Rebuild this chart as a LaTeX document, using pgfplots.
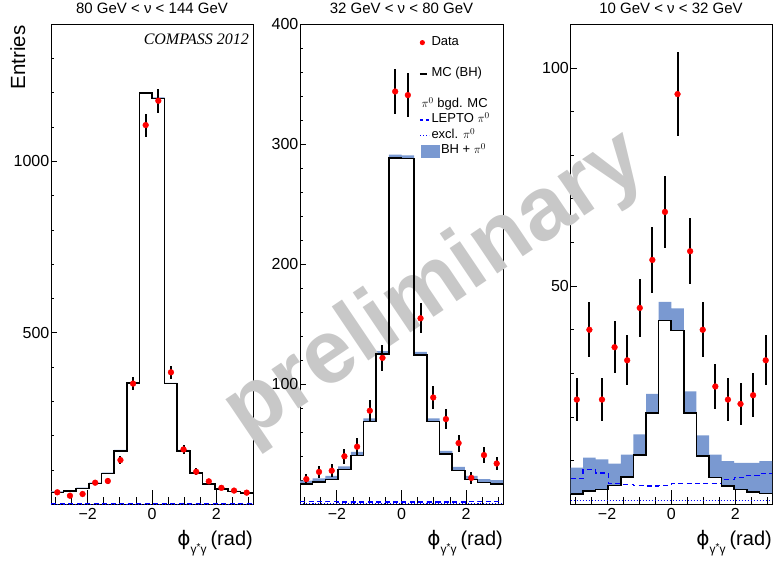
\documentclass[border=0pt]{standalone}
\usepackage{fontspec}
\setmainfont{Liberation Sans}
\newfontfamily\timesfont{Liberation Serif}
\newfontfamily\dejavu{DejaVu Sans}
\usepackage{pgfplots}
\usepackage{pgfplotstable}
\pgfplotsset{compat=1.18}
\usepgfplotslibrary{fillbetween}

\definecolor{bandblue}{RGB}{122,153,209}
\definecolor{wmark}{RGB}{200,200,200}

% MC histograms, 16 bins in phi: e = left bin edge, last row closes the last bin
\pgfplotstableread{
e        bh      tot     lep   exc
-3.1416  35      37.5    2.0   0.5
-2.7489  39      41.5    2.0   0.5
-2.3562  46      48.5    2.0   0.5
-1.9635  61      63.5    2.0   0.5
-1.5708  90      92.5    2.0   0.5
-1.1781  156     158.5   2.0   0.5
-0.7854  354     356.5   2.0   0.5
-0.3927  1199    1201.5  2.0   0.5
 0.0     1184    1186.5  2.0   0.5
 0.3927  352     354.5   2.0   0.5
 0.7854  156     158.5   2.0   0.5
 1.1781  91      93.5    2.0   0.5
 1.5708  59      61.5    2.0   0.5
 1.9635  44      46.5    2.0   0.5
 2.3562  37      39.5    2.0   0.5
 2.7489  33      35.5    2.0   0.5
 3.1416  33      35.5    2.0   0.5
}\mcA
\pgfplotstableread{
x        y      err
-2.9452  35     5.9
-2.5525  25     5.0
-2.1598  30     5.5
-1.7671  63     7.9
-1.3744  68     8.2
-0.9817  129    11.4
-0.5890  352    18.8
-0.1963  1106   33.3
 0.1963  1177   34.3
 0.5890  385    19.6
 0.9817  160    12.6
 1.3744  95     9.7
 1.7671  67     8.2
 2.1598  48     6.9
 2.5525  40     6.3
 2.9452  34     5.8
}\datA

\pgfplotstableread{
e        bh      tot     lep   exc
-3.1416  16.7    19.8    2.3   0.8
-2.7489  18.6    21.6    2.2   0.8
-2.3562  20.8    23.7    2.1   0.8
-1.9635  28.9    31.7    2.0   0.8
-1.5708  40.8    43.6    2.0   0.8
-1.1781  69.0    71.7    1.9   0.8
-0.7854  125.0   127.7   1.9   0.8
-0.3927  288.6   291.4   2.0   0.8
 0.0     288.0   290.8   2.0   0.8
 0.3927  124.4   127.1   1.9   0.8
 0.7854  69.0    71.7    1.9   0.8
 1.1781  41.7    44.5    2.0   0.8
 1.5708  28.3    31.1    2.0   0.8
 1.9635  20.8    23.7    2.1   0.8
 2.3562  18.0    21.0    2.2   0.8
 2.7489  17.0    20.1    2.3   0.8
 3.1416  17.0    20.1    2.3   0.8
}\mcB
\pgfplotstableread{
x        y      err
-2.9452  21     4.6
-2.5525  27     5.2
-2.1598  28     5.3
-1.7671  40     6.3
-1.3744  48     6.9
-0.9817  78     8.8
-0.5890  122    11.0
-0.1963  344    18.5
 0.1963  341    18.5
 0.5890  155    12.4
 0.9817  89     9.4
 1.3744  71     8.4
 1.7671  51     7.1
 2.1598  22     4.7
 2.5525  41     6.4
 2.9452  34     5.8
}\datB

\pgfplotstableread{
e        bh      tot     lep   exc
-3.1416  2.4     8.4     5.9   0.8
-2.7489  3.0     10.7    8.0   0.8
-2.3562  3.4     10.3    7.2   0.8
-1.9635  4.3     9.3     4.8   0.8
-1.5708  6.3     11.4    4.6   0.8
-1.1781  11.3    16.0    4.3   0.8
-0.7854  20.9    25.3    4.2   0.8
-0.3927  42.1    46.4    4.3   0.8
 0.0     39.8    44.9    4.8   0.8
 0.3927  20.9    25.9    4.8   0.8
 0.7854  11.0    15.8    4.7   0.8
 1.1781  6.1     11.4    4.7   0.8
 1.5708  4.2     9.9     5.7   0.8
 1.9635  3.4     9.5     6.2   0.8
 2.3562  2.8     9.5     6.6   0.8
 2.7489  2.5     9.9     7.1   0.8
 3.1416  2.5     9.9     7.1   0.8
}\mcC
\pgfplotstableread{
x        y      err
-2.9452  24     4.9
-2.5525  40     6.3
-2.1598  24     4.9
-1.7671  36     6.0
-1.3744  33     5.7
-0.9817  45     6.7
-0.5890  56     7.5
-0.1963  67     8.2
 0.1963  94     9.7
 0.5890  58     7.6
 0.9817  40     6.3
 1.3744  27     5.2
 1.7671  24     4.9
 2.1598  23     4.8
 2.5525  25     5.0
 2.9452  33     5.7
}\datC

\pgfplotsset{
  panel/.style={
    scale only axis, height=480pt,
    xmin=-3.1416, xmax=3.1416, ymin=0,
    axis line style={black, line width=0.9pt},
    tick align=inside, tick pos=left,
    xtick={-2,0,2}, xticklabels={−2,0,2},
    minor xtick={-3,-2.5,...,3},
    major tick length=6pt, minor tick length=3pt,
    xtick style={/pgfplots/major tick length=14pt, /pgfplots/minor tick length=7pt},
    tick style={black, line width=0.8pt},
    tick label style={font=\fontsize{16}{18}\selectfont},
    yticklabel style={inner xsep=1.5pt},
    /pgf/number format/assume math mode=true,
    xlabel={{\dejavu ϕ}\raisebox{-8pt}{\fontsize{12}{12}\selectfont γ\raisebox{3pt}{\fontsize{10}{10}\selectfont *}γ}\hspace{4pt}(rad)},
    xlabel style={at={(axis description cs:1,0)}, anchor=base east, yshift=-41pt,
      inner sep=0pt, font=\fontsize{20}{22}\selectfont},
  },
  mchist/.style={const plot mark left, no marks, black, line width=1.6pt},
  lepto/.style={const plot mark left, no marks, blue, line width=1.4pt, dash pattern=on 5pt off 3.5pt},
  excl/.style={const plot mark left, no marks, blue, line width=1.2pt, dash pattern=on 1pt off 2pt},
  errbars/.style={only marks, mark=none, black,
    error bars/.cd, y dir=both, y explicit, error mark=none,
    error bar style={black, line width=2pt}, /pgfplots/.cd},
  datapts/.style={only marks, mark=*, mark size=2.9pt, red, mark options={fill=red, draw=red}},
  lgimg/.style={draw=none, fill=none},
}

\begin{document}
\begin{tikzpicture}
\path (0pt,0pt) rectangle (774pt,565pt);

\node[rotate=34, anchor=base, text=wmark, font=\bfseries\fontsize{90}{90}\selectfont] at (449pt,258pt) {preliminary};

% 80 < nu < 144
\begin{axis}[panel, at={(51pt,61pt)}, anchor=south west, width=202pt, ymax=1400,
  ytick={500,1000}, yticklabels={500,1000}, minor ytick={100,200,...,1400}]
\addplot[draw=none, forget plot, const plot mark left, name path=aT] table[x=e,y=tot]{\mcA};
\addplot[draw=none, forget plot, const plot mark left, name path=aB] table[x=e,y=bh]{\mcA};
\addplot[fill=bandblue, draw=none, forget plot] fill between[of=aT and aB];
\addplot[lepto, forget plot] table[x=e,y=lep]{\mcA};
\addplot[excl, forget plot] table[x=e,y=exc]{\mcA};
\addplot[mchist, forget plot] table[x=e,y=bh]{\mcA};
\addplot[forget plot, errbars] table[x=x,y=y,y error=err]{\datA};
\addplot[forget plot, datapts] table[x=x,y=y]{\datA};
\end{axis}

% 32 < nu < 80
\begin{axis}[panel, at={(300pt,61pt)}, anchor=south west, width=203pt, ymax=400,
  ytick={100,200,300,400}, yticklabels={100,200,300,400}, minor ytick={20,40,...,380},
  legend style={at={(rel axis cs:0.585,0.978)}, anchor=north west, draw=none, fill=none,
    inner sep=0pt, outer sep=0pt, row sep=0pt, column sep=1.5pt,
    font=\fontsize{13}{15}\selectfont,
    nodes={inner sep=0pt, text height=10.5pt, text depth=5pt}},
  legend cell align=left]
\addplot[draw=none, forget plot, const plot mark left, name path=bT] table[x=e,y=tot]{\mcB};
\addplot[draw=none, forget plot, const plot mark left, name path=bB] table[x=e,y=bh]{\mcB};
\addplot[fill=bandblue, draw=none, forget plot] fill between[of=bT and bB];
\addplot[lepto, forget plot] table[x=e,y=lep]{\mcB};
\addplot[excl, forget plot] table[x=e,y=exc]{\mcB};
\addplot[mchist, forget plot] table[x=e,y=bh]{\mcB};
\addplot[forget plot, errbars] table[x=x,y=y,y error=err]{\datB};
\addplot[forget plot, datapts] table[x=x,y=y]{\datB};
\addlegendimage{lgimg, legend image code/.code={\path[draw=none,fill=none] (0pt,-2pt) rectangle (10pt,2pt); \fill[red] (2.6pt,0pt) circle (2.6pt);}}
\addlegendentry{Data}
\addlegendimage{lgimg, legend image code/.code={\path[draw=none,fill=none] (0pt,-2pt) rectangle (10pt,2pt);}}
\addlegendentry{}
\addlegendimage{lgimg, legend image code/.code={\path[draw=none,fill=none] (0pt,-2pt) rectangle (10pt,2pt); \draw[black, line width=2pt] (0pt,0pt) -- (7.6pt,0pt);}}
\addlegendentry{MC (BH)}
\addlegendimage{lgimg, legend image code/.code={\path[draw=none,fill=none] (0pt,-2pt) rectangle (10pt,2pt);}}
\addlegendentry{}
\addlegendimage{lgimg, legend image code/.code={\path[draw=none,fill=none] (0pt,-2pt) rectangle (10pt,2pt);}}
\addlegendentry{\hspace*{-10pt}$\pi^0$ bgd. MC}
\addlegendimage{lgimg, legend image code/.code={\path[draw=none,fill=none] (0pt,-2pt) rectangle (10pt,2pt); \draw[blue, line width=1.5pt, dash pattern=on 3.5pt off 2.5pt] (0pt,0pt) -- (9.5pt,0pt);}}
\addlegendentry{LEPTO $\pi^0$}
\addlegendimage{lgimg, legend image code/.code={\path[draw=none,fill=none] (0pt,-2pt) rectangle (10pt,2pt); \draw[blue, line width=1.2pt, dash pattern=on 1pt off 2pt] (0.5pt,0pt) -- (9.5pt,0pt);}}
\addlegendentry{excl. $\pi^0$}
\addlegendimage{lgimg, legend image code/.code={\path[draw=none,fill=none] (0pt,-2pt) rectangle (10pt,2pt); \fill[bandblue, overlay] (1pt,-6.5pt) rectangle (20pt,6.5pt);}}
\addlegendentry{\hspace*{9.5pt}BH + $\pi^0$}
\end{axis}

% 10 < nu < 32
\begin{axis}[panel, at={(570.5pt,61pt)}, anchor=south west, width=201.5pt, ymax=110,
  ytick={50,100}, yticklabels={50,100}, minor ytick={10,20,...,110}]
\addplot[draw=none, forget plot, const plot mark left, name path=cT] table[x=e,y=tot]{\mcC};
\addplot[draw=none, forget plot, const plot mark left, name path=cB] table[x=e,y=bh]{\mcC};
\addplot[fill=bandblue, draw=none, forget plot] fill between[of=cT and cB];
\addplot[lepto, forget plot] table[x=e,y=lep]{\mcC};
\addplot[excl, forget plot] table[x=e,y=exc]{\mcC};
\addplot[mchist, forget plot] table[x=e,y=bh]{\mcC};
\addplot[forget plot, errbars] table[x=x,y=y,y error=err]{\datC};
\addplot[forget plot, datapts] table[x=x,y=y]{\datC};
\end{axis}

\node[anchor=base, font=\fontsize{15}{17}\selectfont] at (152pt,551.5pt) {80 GeV < ν < 144 GeV};
\node[anchor=base, font=\fontsize{15}{17}\selectfont] at (401.5pt,551.5pt) {32 GeV < ν < 80 GeV};
\node[anchor=base, font=\fontsize{15}{17}\selectfont] at (671pt,551.5pt) {10 GeV < ν < 32 GeV};
\node[rotate=90, anchor=base east, inner sep=0pt, font=\fontsize{20.5}{22}\selectfont] at (25pt,540pt) {Entries};
\node[anchor=base east, inner sep=0pt, font=\timesfont\itshape\fontsize{16}{18}\selectfont] at (249pt,521pt) {COMPASS 2012};
\end{tikzpicture}
\end{document}
